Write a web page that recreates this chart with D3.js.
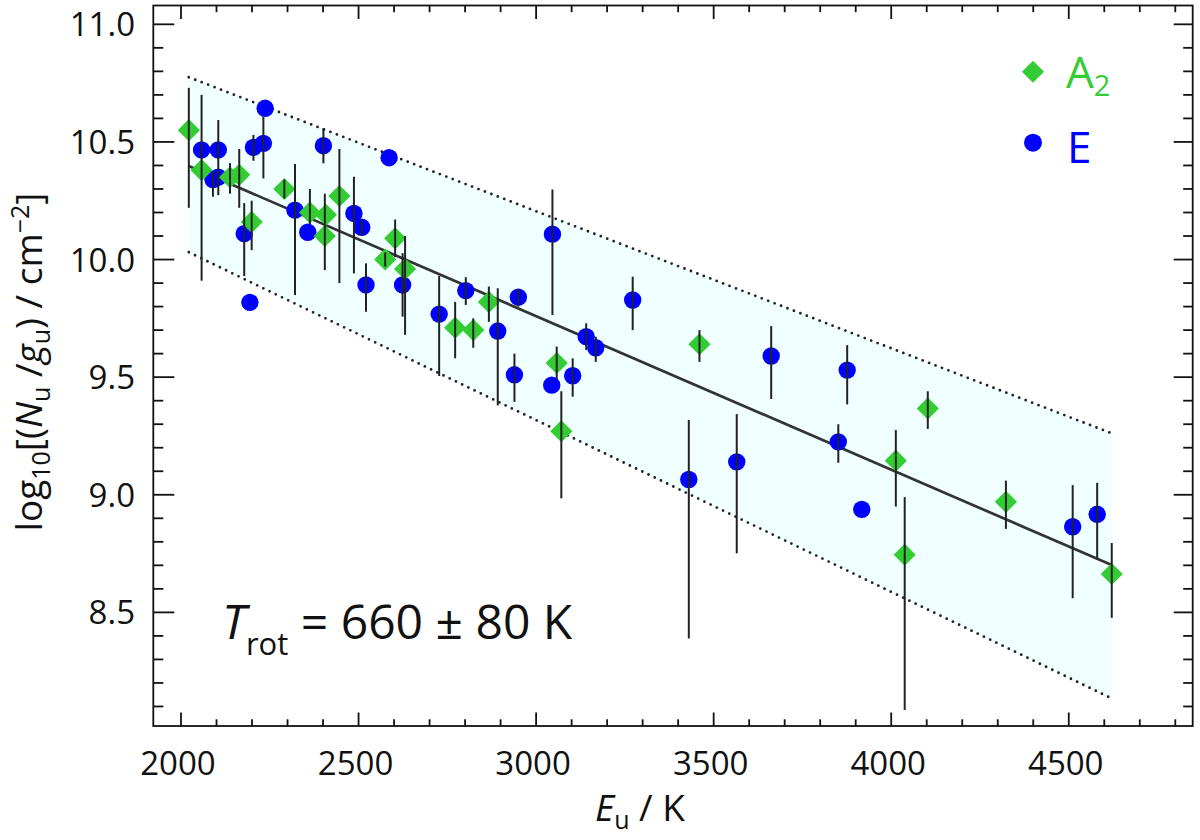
<!DOCTYPE html>
<html><head><meta charset="utf-8">
<script src="https://cdn.jsdelivr.net/npm/d3@7"></script>
<style>body{margin:0;background:#fff} svg{display:block} text{font-family:'Open Sans',sans-serif;fill:#111}</style>
</head><body><svg id="c" width="1200" height="840"></svg>
<script>
// A2 symmetry species (green diamonds): E_u [K], log10(N/g), upper and lower error ends (null = none)
const a2E   = [2022, 2058, 2138, 2164, 2199, 2291, 2363, 2408, 2405, 2446, 2575, 2603, 2631, 2772, 2823, 2867, 3058, 3071, 3460, 4013, 4038, 4103, 4323, 4621];
const a2Val = [10.55, 10.38, 10.35, 10.36, 10.16, 10.30, 10.20, 10.19, 10.10, 10.27, 10.00, 10.09, 9.96, 9.71, 9.70, 9.82, 9.56, 9.27, 9.64, 9.145, 8.745, 9.367, 8.97, 8.663];
const a2Hi  = [10.73, 10.70, 10.41, 10.47, 10.25, 10.34, 10.30, null, 10.28, 10.47, 10.03, 10.17, 10.10, 9.82, 9.75, 9.885, 9.63, 9.44, 9.70, 9.275, 8.99, 9.44, 9.06, 8.795];
const a2Lo  = [10.22, 9.91, 10.28, 10.22, 10.04, 10.26, 10.15, null, 9.955, 9.90, 9.97, 10.01, 9.68, 9.58, 9.625, 9.735, 9.49, 8.985, 9.565, 8.95, 8.085, 9.28, 8.855, 8.477];
// E symmetry species (blue circles)
const eE   = [2058, 2090, 2105, 2105, 2178, 2194, 2204, 2232, 2237, 2321, 2357, 2401, 2487, 2509, 2521, 2586, 2624, 2727, 2802, 2892, 2939, 2950, 3044, 3046, 3103, 3141, 3168, 3272, 3430, 3565, 3662, 3851, 3876, 3917, 4511, 4580];
const eVal = [10.466, 10.34, 10.466, 10.35, 10.11, 9.818, 10.477, 10.494, 10.643, 10.21, 10.116, 10.484, 10.196, 10.137, 9.892, 10.433, 9.892, 9.768, 9.868, 9.696, 9.51, 9.84, 9.466, 10.108, 9.506, 9.672, 9.625, 9.828, 9.065, 9.14, 9.59, 9.225, 9.53, 8.938, 8.864, 8.917];
const eHi  = [null, 10.373, 10.593, null, 10.24, null, 10.53, 10.607, null, 10.406, null, 10.558, 10.352, 10.17, 9.984, null, 10.027, 9.93, 9.925, 9.878, 9.60, 9.875, null, 10.298, 9.58, 9.729, 9.672, 9.927, 9.318, 9.343, 9.717, 9.30, 9.636, null, 9.041, 9.051];
const eLo  = [null, 10.267, 10.274, null, 9.93, null, 10.42, 10.345, null, 9.849, null, 10.409, 9.941, 10.10, 9.778, null, 9.757, 9.505, 9.807, 9.38, 9.395, 9.80, null, 9.764, 9.417, 9.615, 9.565, 9.70, 8.389, 8.751, 9.407, 9.136, 9.384, null, 8.56, 8.725];
// Rotational-diagram fit and its uncertainty envelope (end points)
const fitE   = [2022, 4621];
const fitVal = [10.398, 8.701];
const bandHi = [10.775, 9.261];
const bandLo = [10.031, 8.134];
// Axis ticks
const xMajor = [2000, 2500, 3000, 3500, 4000, 4500];
const xMinor = d3.range(2000, 4900, 100);
const yMajor = [8.5, 9.0, 9.5, 10.0, 10.5, 11.0];
const yMinor = d3.range(81, 111, 1).map(v => v / 10);
const legendLabels = ["A", "E"];

const GREEN = "#33cc33", BLUE = "#0000ff";
const L = 153.3, R = 1192.7, T = 5.5, B = 726;
const svg = d3.select("#c");
const x = d3.scaleLinear().domain([1922, 4849]).range([L, R]);
const y = d3.scaleLinear().domain([8.017, 11.08]).range([B, T]);

// envelope fill
const poly = [[fitE[0], bandHi[0]], [fitE[1], bandHi[1]], [fitE[1], bandLo[1]], [fitE[0], bandLo[0]]];
svg.append("path").attr("d", d3.line().x(d => x(d[0])).y(d => y(d[1]))(poly) + "Z")
  .attr("fill", "#f0ffff").attr("stroke", "none");
// dotted envelope lines
[bandHi, bandLo].forEach(b => {
  svg.append("line").attr("x1", x(fitE[0])).attr("x2", x(fitE[1])).attr("y1", y(b[0])).attr("y2", y(b[1]))
    .attr("stroke", "#222").attr("stroke-width", 2.8).attr("stroke-linecap", "round").attr("stroke-dasharray", "0 6.9");
});
// fit line
svg.append("line").attr("x1", x(fitE[0])).attr("x2", x(fitE[1])).attr("y1", y(fitVal[0])).attr("y2", y(fitVal[1]))
  .attr("stroke", "#333").attr("stroke-width", 2.7);

const diamond = d3.symbol().type(d3.symbolSquare).size(245);
// markers
const a2 = a2E.map((e, i) => ({e, v: a2Val[i], hi: a2Hi[i], lo: a2Lo[i]}));
const ee = eE.map((e, i) => ({e, v: eVal[i], hi: eHi[i], lo: eLo[i]}));
svg.append("g").selectAll("circle").data(ee).join("circle")
  .attr("cx", d => x(d.e)).attr("cy", d => y(d.v)).attr("r", 8.7).attr("fill", BLUE);
svg.append("g").selectAll("path").data(a2).join("path")
  .attr("d", diamond).attr("transform", d => `translate(${x(d.e)},${y(d.v)}) rotate(45)`).attr("fill", GREEN);
// error bars
svg.append("g").selectAll("line").data(a2.concat(ee).filter(d => d.hi != null)).join("line")
  .attr("x1", d => x(d.e)).attr("x2", d => x(d.e)).attr("y1", d => y(d.hi)).attr("y2", d => y(d.lo))
  .attr("stroke", "#222").attr("stroke-width", 2);

// frame and ticks
const ax = svg.append("g").attr("stroke", "#111").attr("stroke-width", 1.8);
ax.append("rect").attr("x", L).attr("y", T).attr("width", R - L).attr("height", B - T).attr("fill", "none");
xMinor.forEach(v => {
  const len = xMajor.includes(v) ? 13.5 : 6.7;
  ax.append("line").attr("x1", x(v)).attr("x2", x(v)).attr("y1", B).attr("y2", B - len);
  ax.append("line").attr("x1", x(v)).attr("x2", x(v)).attr("y1", T).attr("y2", T + len);
});
yMinor.forEach(v => {
  const maj = yMajor.some(m => Math.abs(m - v) < 1e-6);
  ax.append("line").attr("x1", L).attr("x2", L + (maj ? 21 : 10)).attr("y1", y(v)).attr("y2", y(v));
  ax.append("line").attr("x1", R).attr("x2", R - (maj ? 19 : 9.5)).attr("y1", y(v)).attr("y2", y(v));
});
// tick labels
svg.append("g").selectAll("text").data(xMajor).join("text")
  .attr("x", d => x(d) - 3).attr("y", 775).attr("text-anchor", "middle").attr("font-size", 33).text(d => d);
svg.append("g").selectAll("text").data(yMajor).join("text")
  .attr("x", 135).attr("y", d => y(d) + 12).attr("text-anchor", "end").attr("font-size", 33).text(d => d.toFixed(1));

// axis titles
const xt = svg.append("text").attr("x", 640).attr("y", 821).attr("text-anchor", "middle").attr("font-size", 37);
xt.append("tspan").attr("font-style", "italic").text("E");
xt.append("tspan").attr("font-size", 25).attr("dy", 8).text("u");
xt.append("tspan").attr("dy", -8).text(" / K");

const yt = svg.append("text").attr("transform", "translate(42,362) rotate(-90)").attr("text-anchor", "middle").attr("font-size", 37);
yt.append("tspan").text("log");
yt.append("tspan").attr("font-size", 25).attr("dy", 8).text("10");
yt.append("tspan").attr("dy", -8).text("[(");
yt.append("tspan").attr("font-style", "italic").text("N");
yt.append("tspan").attr("font-size", 25).attr("dy", 8).text("u");
yt.append("tspan").attr("dy", -8).text(" /");
yt.append("tspan").attr("font-style", "italic").text("g");
yt.append("tspan").attr("font-size", 25).attr("dy", 8).text("u");
yt.append("tspan").attr("dy", -8).text(") / cm");
yt.append("tspan").attr("font-size", 25).attr("dy", -13).text("−2");
yt.append("tspan").attr("dy", 13).text("]");

// annotation
const an = svg.append("text").attr("x", 222).attr("y", 639).attr("font-size", 48);
an.append("tspan").attr("font-style", "italic").text("T");
an.append("tspan").attr("font-size", 31).attr("dy", 16).text("rot");
an.append("tspan").attr("dy", -16).text(" = 660 ± 80 K");

// legend
svg.append("path").attr("d", diamond).attr("transform", "translate(1033,71.7) rotate(45)").attr("fill", GREEN);
svg.append("circle").attr("cx", 1033).attr("cy", 142.7).attr("r", 9).attr("fill", BLUE);
const lg1 = svg.append("text").attr("x", 1066).attr("y", 88).attr("font-size", 44).style("fill", GREEN);
lg1.append("tspan").text(legendLabels[0]);
lg1.append("tspan").attr("font-size", 29).attr("dy", 8).text("2");
svg.append("text").attr("x", 1067).attr("y", 163).attr("font-size", 44).style("fill", BLUE).text(legendLabels[1]);
</script></body></html>
